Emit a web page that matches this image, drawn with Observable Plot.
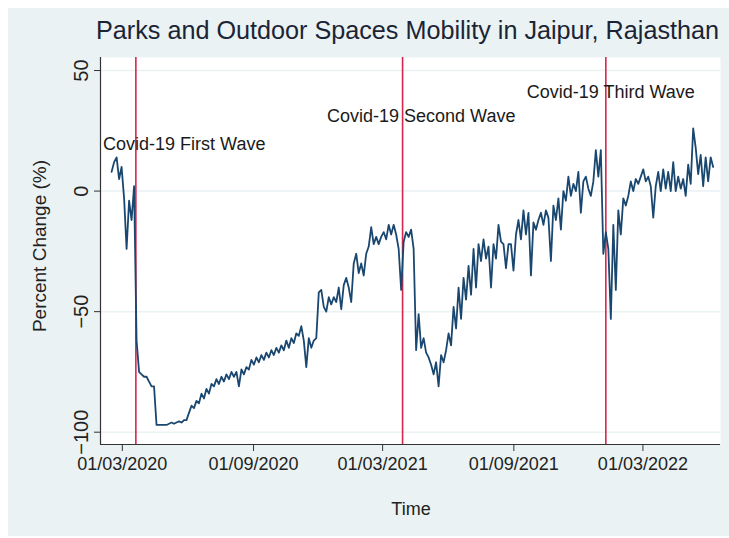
<!DOCTYPE html>
<html>
<head>
<meta charset="utf-8">
<script src="https://cdn.jsdelivr.net/npm/d3@7"></script>
<script src="https://cdn.jsdelivr.net/npm/@observablehq/plot@0.6"></script>
<style>
  body { margin: 0; background: #fff; font-family: "Liberation Sans", Arial, sans-serif; }
  #wrap { position: relative; width: 729px; height: 538px; overflow: hidden; }
  #bg { position: absolute; left: 8px; top: 8px; width: 721px; height: 528px; background: #eaf2f3; }
  #title { position: absolute; left: 96px; top: 16px; font-size: 25.2px; color: #1b2436; white-space: nowrap; line-height: 1.117; }
  #ytitle { position: absolute; left: 40px; top: 246px; transform: translate(-50%, -50%) rotate(-90deg); font-size: 19px; color: #222; white-space: nowrap; }
  #xtitle { position: absolute; left: 411px; top: 509px; transform: translate(-50%, -50%); font-size: 18px; color: #222; white-space: nowrap; }
  #chart { position: absolute; left: 0; top: 0; }
</style>
</head>
<body>
<div id="wrap">
  <div id="bg"></div>
  <div id="title">Parks and Outdoor Spaces Mobility in Jaipur, Rajasthan</div>
  <div id="ytitle">Percent Change (%)</div>
  <div id="xtitle">Time</div>
  <div id="chart"></div>
</div>
<script>
// ---- data ----
const startDate = "2020-02-15";
const stepDays = 3.5;
const mobility = [
  8, 12, 14, 5, 10, -3, -24, -4, -12, 2, -62, -75,
  -76, -77, -77, -79, -81, -81, -97, -97, -97, -97, -97,
  -96.5, -96, -96.5, -96, -95.5, -96, -95, -95,
  -92, -89, -90, -87, -88, -84, -86, -82, -84, -80, -81, -78, -80, -77, -79, -76, -78, -75, -77, -75,
  -81, -74, -76, -73, -74, -70, -72, -69, -71, -68, -70, -67, -69, -66, -68, -65, -67, -64, -66, -62, -65, -61, -63, -59, -60,
  -56, -62, -73, -61, -65, -62, -61, -42, -41, -48, -50, -44, -47, -44, -46, -40, -49, -39, -36, -40, -46, -30, -26, -34, -30,
  -35, -26, -23, -15, -22, -19, -22, -19, -17, -20, -14, -18, -14, -18, -24, -41, -21, -17, -19, -16, -24,
  -66, -51, -65, -61, -67, -69, -72, -76, -71, -81, -68, -71, -66, -59, -64, -48, -57, -40, -53, -36,
  -45, -31, -43, -24, -40, -22, -29, -20, -28, -23, -40, -22, -28, -14, -21, -22, -32, -22, -22,
  -33, -18, -12, -20, -8, -18, -9, -35, -13, -16, -12, -9, -14, -8, -11, -29, -6, -12, -3, -16,
  0, -4, 6, -2, 3, 0, 8, -9, 4, 6, 1, -2, 4, 17, 6, 17,
  -26, -17, -24, -53, -14, -41, -8, -18, -3, -6, -2, 4, 0, 5, 3, 6, 9, 4, 6, 2,
  -11, 2, 8, 0, 9, 1, 8, 0, 12, 0, 6, 1, 5, -2, 11, 3, 26, 18, 7, 15, 2, 14, 4, 14, 10
];
const waveDates = ["2020-03-20", "2021-03-29", "2022-01-08"];
const waveLabels = ["Covid-19 First Wave", "Covid-19 Second Wave", "Covid-19 Third Wave"];
const waveLabelDates = ["2020-02-03", "2020-12-13", "2021-09-19"];
const waveLabelY = [19.3, 30.9, 40.9];
const yTicks = [50, 0, -50, -100];
const xTickDates = ["2020-03-01", "2020-09-01", "2021-03-01", "2021-09-01", "2022-03-01"];
const xTickLabels = ["01/03/2020", "01/09/2020", "01/03/2021", "01/09/2021", "01/03/2022"];
const xDomain = ["2020-01-30T10:00Z", "2022-06-17T19:00Z"];
const yDomain = [-105.1, 55.4];

// ---- build tables ----
const t0 = new Date(startDate + "T00:00Z").getTime();
const series = mobility.map((v, i) => ({ date: new Date(t0 + i * stepDays * 864e5), value: v }));
const waves = waveDates.map(d => new Date(d + "T00:00Z"));
const labels = waveLabels.map((t, i) => ({ date: new Date(waveLabelDates[i] + "T00:00Z"), y: waveLabelY[i], label: t }));
const xTicks = xTickDates.map(d => new Date(d + "T00:00Z"));
const xd = xDomain.map(d => new Date(d));
const fmtX = d => xTickLabels[xTicks.findIndex(t => +t === +d)];

const chart = Plot.plot({
  width: 729,
  height: 538,
  marginLeft: 100,
  marginRight: 9,
  marginTop: 57,
  marginBottom: 94,
  style: { background: "transparent", fontFamily: "Liberation Sans, Arial, sans-serif", fontSize: "18px", color: "#222", overflow: "visible" },
  x: { type: "utc", domain: xd },
  y: { domain: yDomain },
  marks: [
    Plot.frame({ fill: "white", stroke: null }),
    Plot.gridY(yTicks, { stroke: "#eaf2f3", strokeOpacity: 1, strokeWidth: 1.5 }),
    Plot.ruleX(waves, { stroke: "#d6264f", strokeWidth: 1.6 }),
    Plot.line(series, { x: "date", y: "value", stroke: "#1a476f", strokeWidth: 1.8 }),
    Plot.text(labels, { x: "date", y: "y", text: "label", textAnchor: "start", fontSize: 18, fill: "#1a1a1a" }),
    Plot.ruleX([xd[0]], { stroke: "#333", strokeWidth: 1.2 }),
    Plot.ruleY([yDomain[0]], { stroke: "#333", strokeWidth: 1.2 }),
    Plot.axisY(yTicks, { tickRotate: -90, tickSize: 6, tickPadding: 7, fontSize: 20, label: null, stroke: "#333" }),
    Plot.axisX(xTicks, { tickSize: 7, tickPadding: 6, fontSize: 18, tickFormat: fmtX, label: null, stroke: "#333" })
  ]
});
document.getElementById("chart").appendChild(chart);
</script>
</body>
</html>
